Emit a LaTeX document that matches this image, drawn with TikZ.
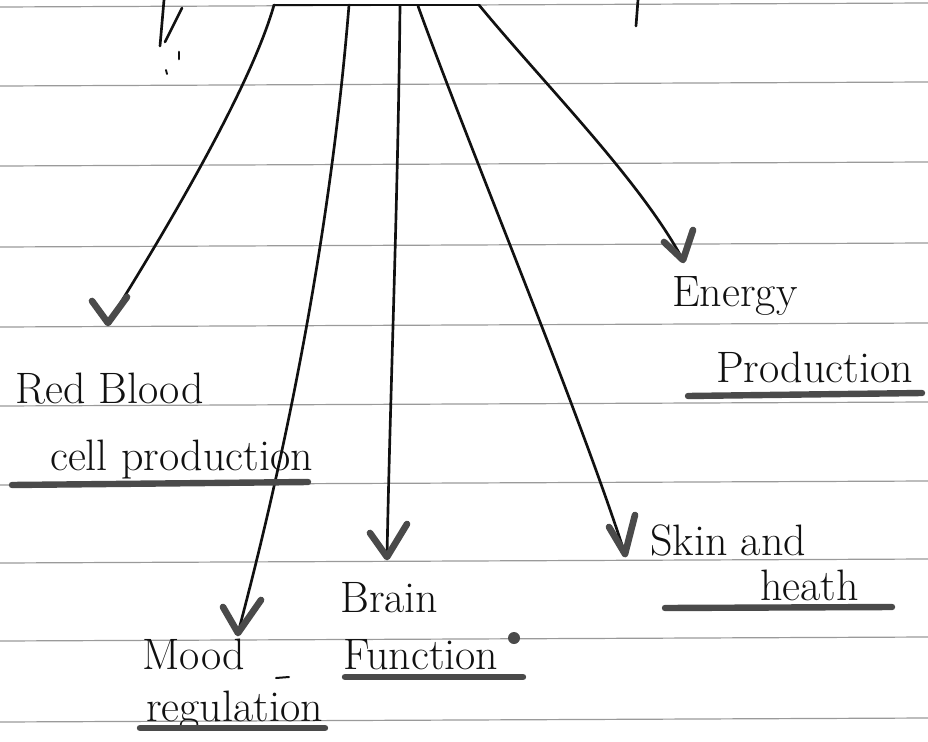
\documentclass[tikz,border=0pt]{standalone}
\definecolor{inkgrey}{HTML}{4A4A4A}
\definecolor{rulegrey}{HTML}{9A9A9A}
\definecolor{ink}{HTML}{111111}
\tikzset{
  ruling/.style={draw=rulegrey,line width=0.9pt},
  pen/.style={draw=ink,line width=2pt,line cap=round},
  vhead/.style={draw=inkgrey,line width=5pt,line cap=round,line join=round},
  underscore/.style={draw=inkgrey,line width=4.8pt,line cap=round},
  label/.style={inner sep=0pt,anchor=base west,text=ink,font=\fontsize{33}{38}\selectfont},
}
\begin{document}
\begin{tikzpicture}[x=0.75pt,y=-0.75pt]
  \useasboundingbox (0,0) rectangle (928,742);
  \fill[white] (0,0) rectangle (928,742);

  % ruled notebook lines
  \foreach \y in {5,84,164,245,325,404,483,561,639,720}
    \draw[ruling] (0,\y+2) -- (928,\y-2);

  % fragments of writing cut off at the top edge
  \draw[pen] (164,0) -- (160,46);
  \draw[pen] (182,8) -- (165,42);
  \draw[pen] (179,52) -- (179,59);
  \draw[pen,line width=1.4pt] (166,70) -- (167,74);
  \draw[pen] (638,0) -- (636,26);

  % branching bar and its start points
  \coordinate (s1) at (274,5);
  \coordinate (s2) at (349,5);
  \coordinate (s3) at (400,6);
  \coordinate (s4) at (418,6);
  \coordinate (s5) at (479,5);
  \draw[pen] (s1) -- (s5);

  % arrow tips
  \coordinate (t1) at (108,323);
  \coordinate (t2) at (238,633);
  \coordinate (t3) at (387,557);
  \coordinate (t4) at (625,554);
  \coordinate (t5) at (683,260);

  % labels
  \node[label] (rbc1) at (15,403) {Red Blood};
  \node[label] (rbc2) at (50,470) {cell production};
  \node[label] (en1) at (672,306) {Energy};
  \node[label] (en2) at (716,382) {Production};
  \node[label] (sk1) at (650,555) {Skin and};
  \node[label] (sk2) at (760,600) {heath};
  \node[label] (br1) at (340,612) {Brain};
  \node[label] (br2) at (343,669) {Function};
  \node[label] (mo1) at (142,669) {Mood};
  \node[label] (mo2) at (146,721) {regulation};

  % connectors
  \draw[pen] (s1) .. controls (250,90) and (160,240) .. (t1);
  \draw[pen] (s2) .. controls (330,240) and (284,460) .. (t2);
  \draw[pen] (s3) .. controls (398,200) and (390,400) .. (t3);
  \draw[pen] (s4) .. controls (470,150) and (575,400) .. (t4);
  \draw[pen] (s5) .. controls (545,85) and (640,180) .. (t5);

  % hand-drawn arrowheads
  \draw[vhead] (t1) ++(-16,-22) -- (t1) -- ++(19,-26);
  \draw[vhead] (t2) ++(-15,-26) -- (t2) -- ++(23,-33);
  \draw[vhead] (t3) ++(-17,-24) -- (t3) -- ++(20,-33);
  \draw[vhead] (t4) ++(-16,-27) -- (t4) -- ++(10,-39);
  \draw[vhead] (t5) ++(-19,-18) -- (t5) -- ++(10,-30);

  % underlines
  \draw[underscore] (12,485) -- (308,482);
  \draw[underscore] (688,396) -- (922,393);
  \draw[underscore] (665,608) -- (892,607);
  \draw[underscore] (345,677) -- (523,677);
  \draw[underscore] (140,728) -- (325,728);

  % small marks
  \draw[pen,line width=1.5pt] (276,678) -- (289,677);
  \fill[inkgrey] (514,638) circle (6);
\end{tikzpicture}
\end{document}
